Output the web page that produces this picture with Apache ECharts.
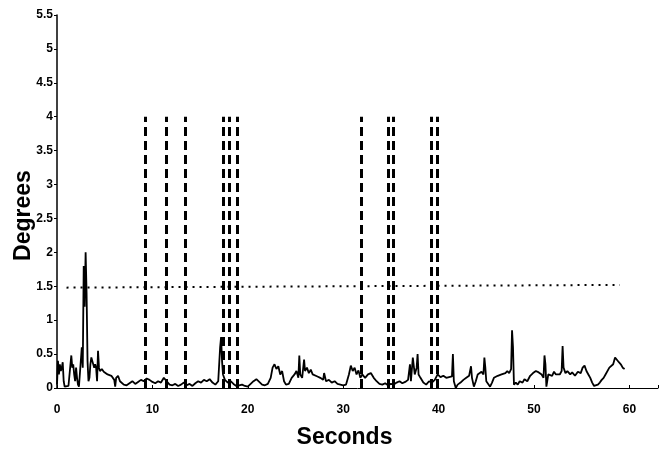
<!DOCTYPE html>
<html>
<head>
<meta charset="utf-8">
<script src="https://cdn.jsdelivr.net/npm/echarts@6/dist/echarts.min.js"></script>
<style>
html,body{margin:0;padding:0;background:#fff;}
#chart{width:659px;height:457px;}
</style>
</head>
<body>
<div id="chart"></div>
<script>
// Time (seconds) and angle (degrees) of the traced signal
var seconds = [0.0,0.1,0.2,0.3,0.4,0.5,0.6,0.7,0.8,1.0,1.2,1.4,1.5,1.6,1.7,1.8,1.9,2.0,2.1,2.2,2.3,2.5,2.6,2.7,2.8,2.9,3.0,3.1,3.2,3.3,3.4,3.5,3.6,3.7,3.8,3.9,4.0,4.1,4.2,4.3,4.4,4.5,4.7,4.9,5.1,5.3,5.5,5.7,5.9,6.0,6.1,6.2,6.4,6.6,6.8,7.0,7.3,7.6,7.9,8.2,8.5,8.8,9.1,9.4,9.7,10.0,10.3,10.6,10.9,11.2,11.5,11.8,12.1,12.4,12.7,13.0,13.3,13.6,13.9,14.2,14.5,14.8,15.1,15.4,15.7,16.0,16.3,16.6,16.9,17.1,17.2,17.3,17.4,17.6,17.9,18.2,18.5,18.8,19.1,19.4,19.7,20.0,20.3,20.6,20.9,21.2,21.5,21.8,22.1,22.4,22.6,22.8,23.0,23.2,23.4,23.6,23.8,24.0,24.3,24.6,24.9,25.1,25.3,25.4,25.5,25.7,25.9,26.0,26.2,26.4,26.6,26.8,27.0,27.3,27.6,27.9,28.0,28.2,28.5,28.8,29.1,29.4,29.7,30.0,30.3,30.6,30.8,31.0,31.2,31.4,31.6,31.8,32.0,32.3,32.6,32.9,33.2,33.5,33.8,34.1,34.4,34.7,35.0,35.3,35.6,35.9,36.2,36.5,36.8,37.0,37.1,37.3,37.5,37.7,37.8,37.9,38.1,38.4,38.7,39.0,39.3,39.6,39.9,40.2,40.5,40.8,41.1,41.4,41.5,41.6,41.8,42.0,42.3,42.6,42.9,43.2,43.4,43.5,43.7,43.9,44.1,44.3,44.5,44.7,44.8,44.9,45.0,45.2,45.4,45.6,45.8,46.0,46.2,46.4,46.6,46.8,47.0,47.2,47.4,47.6,47.7,47.8,47.9,48.1,48.3,48.5,48.8,49.0,49.3,49.6,49.9,50.2,50.5,50.8,51.0,51.1,51.2,51.3,51.5,51.7,51.9,52.1,52.3,52.5,52.7,52.9,53.0,53.1,53.3,53.5,53.8,54.0,54.3,54.6,54.9,55.1,55.3,55.5,55.7,55.9,56.1,56.3,56.5,56.7,56.9,57.1,57.3,57.5,57.7,57.9,58.1,58.3,58.5,58.7,58.9,59.1,59.3,59.5];
var degrees = [0.05,0.4,0.2,0.35,0.25,0.3,0.38,0.1,0.02,0.02,0.03,0.05,0.48,0.3,0.35,0.2,0.1,0.3,0.15,0.05,0.02,0.02,0.6,0.3,1.8,1.2,2.0,1.4,0.4,0.1,0.15,0.35,0.45,0.4,0.38,0.3,0.35,0.3,0.1,0.55,0.3,0.25,0.28,0.24,0.26,0.2,0.22,0.18,0.2,0.12,0.02,0.15,0.18,0.1,0.08,0.05,0.04,0.07,0.1,0.06,0.09,0.12,0.1,0.14,0.12,0.09,0.07,0.1,0.08,0.15,0.1,0.05,0.04,0.06,0.03,0.05,0.08,0.04,0.06,0.03,0.07,0.1,0.08,0.12,0.1,0.13,0.08,0.05,0.1,0.6,0.75,0.4,0.2,0.12,0.08,0.1,0.06,0.03,0.04,0.05,0.03,0.02,0.06,0.1,0.13,0.09,0.05,0.04,0.06,0.15,0.3,0.35,0.28,0.32,0.2,0.25,0.1,0.05,0.06,0.15,0.2,0.25,0.15,0.48,0.2,0.15,0.42,0.25,0.3,0.22,0.27,0.2,0.22,0.17,0.15,0.12,0.22,0.1,0.12,0.08,0.1,0.06,0.05,0.04,0.05,0.2,0.33,0.25,0.3,0.2,0.26,0.15,0.2,0.15,0.2,0.22,0.15,0.1,0.06,0.05,0.07,0.04,0.06,0.05,0.08,0.1,0.07,0.09,0.12,0.35,0.1,0.45,0.2,0.3,0.5,0.2,0.15,0.08,0.05,0.1,0.08,0.12,0.2,0.16,0.18,0.15,0.16,0.17,0.5,0.1,0.0,0.05,0.08,0.12,0.15,0.18,0.32,0.15,0.02,0.1,0.2,0.18,0.24,0.2,0.45,0.3,0.1,0.06,0.02,0.08,0.15,0.14,0.18,0.16,0.2,0.18,0.22,0.25,0.22,0.28,0.85,0.6,0.05,0.08,0.05,0.1,0.08,0.13,0.1,0.18,0.22,0.25,0.23,0.2,0.15,0.48,0.35,0.02,0.2,0.22,0.18,0.24,0.2,0.22,0.2,0.25,0.62,0.3,0.22,0.25,0.2,0.23,0.18,0.24,0.22,0.3,0.33,0.25,0.2,0.15,0.08,0.03,0.01,0.05,0.08,0.12,0.15,0.2,0.22,0.3,0.28,0.35,0.45,0.43,0.38,0.35,0.3,0.28];

// Event markers (dashed verticals), from 0 up to eventTop degrees
var eventSeconds = [9.3,11.4,13.4,17.4,18.1,18.9,31.9,34.7,35.2,39.2,39.9];
var eventTop = 4.0;

// Threshold (dotted line): start and end points
var thresholdSeconds = [1.0,59.0];
var thresholdDegrees = [1.48,1.52];

var xTicks = [0,10,20,30,40,50,60];
var yTicks = [0,0.5,1,1.5,2,2.5,3,3.5,4,4.5,5,5.5];

var chart = echarts.init(document.getElementById('chart'));
var signal = seconds.map(function(t,i){return [t,degrees[i]];});
var eventLines = eventSeconds.map(function(t){return [{coord:[t,0]},{coord:[t,eventTop]}];});
var FONT = '"Liberation Sans", Arial, sans-serif';

chart.setOption({
  animation:false,
  backgroundColor:'#fff',
  grid:{left:57,right:1,top:15,bottom:69,containLabel:false,outerBoundsMode:'none'},
  xAxis:{
    type:'value',min:0,max:63,interval:10,
    name:'Seconds',nameLocation:'middle',nameGap:38,nameMoveOverlap:false,
    nameTextStyle:{fontFamily:FONT,fontWeight:'bold',fontSize:23,color:'#000',padding:[0,26,0,0]},
    axisLine:{show:true,lineStyle:{color:'#000',width:1}},
    axisTick:{show:true,inside:true,length:3,lineStyle:{color:'#000'}},
    splitLine:{show:false},
    axisLabel:{fontFamily:FONT,fontWeight:'bold',fontSize:12,color:'#000',margin:16,
      formatter:function(v){return xTicks.indexOf(v)>=0?String(v):'';}}
  },
  yAxis:{
    type:'value',min:0,max:5.5,interval:0.5,
    name:'Degrees',nameLocation:'middle',nameGap:22,nameMoveOverlap:false,
    nameTextStyle:{fontFamily:FONT,fontWeight:'bold',fontSize:23,color:'#000',padding:[0,28,0,0]},
    axisLine:{show:true,lineStyle:{color:'#000',width:1.5}},
    axisTick:{show:true,length:3,lineStyle:{color:'#000'}},
    splitLine:{show:false},
    axisLabel:{fontFamily:FONT,fontWeight:'bold',fontSize:12,color:'#000',margin:4,
      formatter:function(v){return yTicks.indexOf(v)>=0?String(v):'';}}
  },
  series:[
    {
      type:'line',data:signal,symbol:'none',
      lineStyle:{color:'#000',width:1.8},
      z:3
    },
    {
      type:'line',data:[],symbol:'none',
      markLine:{
        silent:true,symbol:['none','none'],label:{show:false},
        lineStyle:{color:'#000',width:3,type:[9,5]},
        data:eventLines
      }
    },
    {
      type:'line',data:[],symbol:'none',
      markLine:{
        silent:true,symbol:['none','none'],label:{show:false},
        lineStyle:{color:'#000',width:2,type:[2,5]},
        data:[[{coord:[thresholdSeconds[0],thresholdDegrees[0]]},{coord:[thresholdSeconds[1],thresholdDegrees[1]]}]]
      }
    }
  ]
});
</script>
</body>
</html>
